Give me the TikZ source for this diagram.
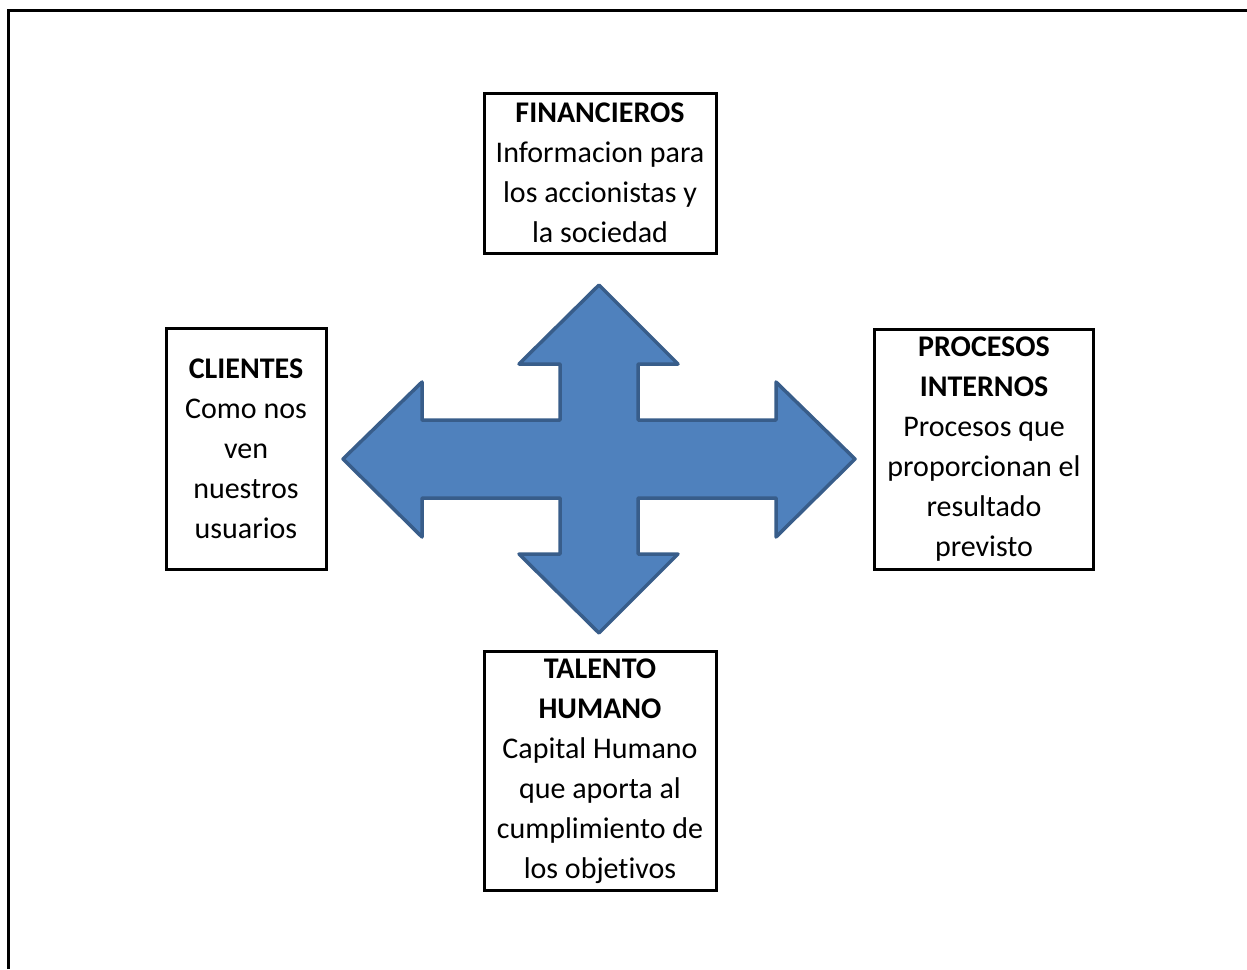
\documentclass[tikz,border=0pt]{standalone}
\usepackage{fontspec}
\setmainfont{Carlito}[Ligatures=NoCommon]
\usepackage{xcolor}
\usetikzlibrary{calc}
\definecolor{arrowfill}{HTML}{4F81BD}
\definecolor{arrowline}{HTML}{385D8A}
\tikzset{cajon/.style={draw=black, line width=3pt, align=center, inner sep=0pt,
  font=\fontsize{30}{40}\selectfont}}

\begin{document}
\begin{tikzpicture} [x=1pt,y=-1pt]
\useasboundingbox (0,0) rectangle (1247,969);
\draw[black,line width=3pt] (8,969)--(8,10)--(1247,10);

% flecha de cuatro puntas
\draw[arrowline,fill=arrowfill,line width=3.5pt,line join=round]
  (599,285)--(678,364)--(638,364)--(638,420)--(776,420)--(776,382)--(855,459)
  --(776,537)--(776,498)--(638,498)--(638,554)--(678,554)--(599,633)
  --(519,554)--(560,554)--(560,498)--(422,498)--(422,537)--(343,459)
  --(422,382)--(422,420)--(560,420)--(560,364)--(519,364)--cycle;

\node[cajon, minimum width=232, minimum height=160] (fin) at (600,173)
  {\textbf{FINANCIEROS}\\Informacion para\\los accionistas y\\la sociedad};
\node[cajon, minimum width=160, minimum height=241] (cli) at (246,449)
  {\textbf{CLIENTES}\\Como nos\\ven\\nuestros\\usuarios};
\node[cajon, minimum width=219, minimum height=240] (pro) at (984,449)
  {\textbf{PROCESOS}\\\textbf{INTERNOS}\\Procesos que\\proporcionan el\\resultado\\previsto};
\node[cajon, minimum width=232, minimum height=239] (tal) at (600,771)
  {\textbf{TALENTO}\\\textbf{HUMANO}\\Capital Humano\\que aporta al\\cumplimiento de\\los objetivos};
\end{tikzpicture}
\end{document}
